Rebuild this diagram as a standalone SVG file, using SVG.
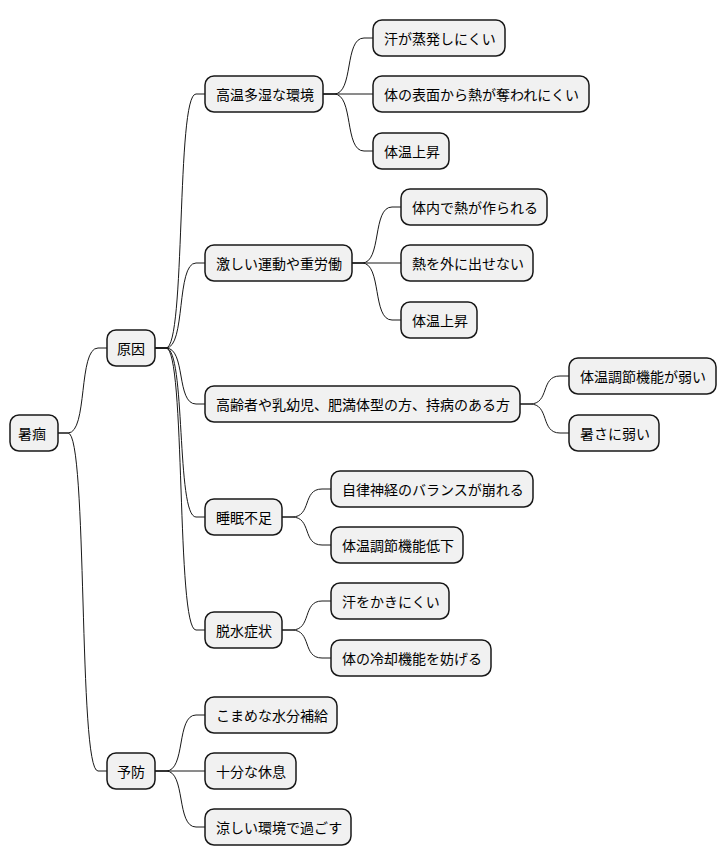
<svg xmlns="http://www.w3.org/2000/svg" width="726" height="865" viewBox="0 0 726 865">
<style>
.n rect{fill:#F1F1F1;stroke:#181818;stroke-width:1.5}
.n text{font-family:"Noto Sans CJK JP","Liberation Sans",sans-serif;font-size:14px;fill:#000;dominant-baseline:central}
#c path{fill:none;stroke:#181818;stroke-width:1}
</style>
<rect width="726" height="865" fill="#fff"/>
<g id="c">
<path d="M58,433 L68,433 C88,433 78,348 98,348 L107,348"/>
<path d="M58,433 L68,433 C88,433 78,771 98,771 L107,771"/>
<path d="M155,348 L166,348 C186,348 176,94 196,94 L205,94"/>
<path d="M155,348 L166,348 C186,348 176,263 196,263 L205,263"/>
<path d="M155,348 L166,348 C186,348 176,404 196,404 L205,404"/>
<path d="M155,348 L166,348 C186,348 176,517 196,517 L205,517"/>
<path d="M155,348 L166,348 C186,348 176,630 196,630 L205,630"/>
<path d="M155,771 L166,771 C186,771 176,715 196,715 L205,715"/>
<path d="M155,771 L205,771"/>
<path d="M155,771 L166,771 C186,771 176,827 196,827 L205,827"/>
<path d="M323,94 L334,94 C354,94 344,38 364,38 L373,38"/>
<path d="M323,94 L373,94"/>
<path d="M323,94 L334,94 C354,94 344,151 364,151 L373,151"/>
<path d="M352,263 L362,263 C382,263 372,207 392,207 L401,207"/>
<path d="M352,263 L401,263"/>
<path d="M352,263 L362,263 C382,263 372,320 392,320 L401,320"/>
<path d="M520,404 L530,404 C550,404 540,376 560,376 L569,376"/>
<path d="M520,404 L530,404 C550,404 540,433 560,433 L569,433"/>
<path d="M282,517 L292,517 C312,517 302,489 322,489 L331,489"/>
<path d="M282,517 L292,517 C312,517 302,545 322,545 L331,545"/>
<path d="M282,630 L292,630 C312,630 302,601 322,601 L331,601"/>
<path d="M282,630 L292,630 C312,630 302,658 322,658 L331,658"/>
</g>
<g id="root" class="n"><rect x="10" y="415" width="48" height="36" rx="9"/><text x="18" y="433">暑痼</text></g>
<g id="cause" class="n"><rect x="107" y="330" width="48" height="36" rx="9"/><text x="117" y="348">原因</text></g>
<g id="prev" class="n"><rect x="107" y="753" width="48" height="36" rx="9"/><text x="117" y="771">予防</text></g>
<g id="c1" class="n"><rect x="205" y="76" width="118" height="36" rx="9"/><text x="216" y="94">高温多湿な環境</text></g>
<g id="c1a" class="n"><rect x="373" y="20" width="132" height="36" rx="9"/><text x="384" y="38">汗が蒸発しにくい</text></g>
<g id="c1b" class="n"><rect x="373" y="76" width="216" height="36" rx="9"/><text x="384" y="94">体の表面から熱が奪われにくい</text></g>
<g id="c1c" class="n"><rect x="373" y="133" width="76" height="36" rx="9"/><text x="384" y="151">体温上昇</text></g>
<g id="c2" class="n"><rect x="205" y="245" width="147" height="36" rx="9"/><text x="216" y="263">激しい運動や重労働</text></g>
<g id="c2a" class="n"><rect x="401" y="189" width="146" height="36" rx="9"/><text x="412" y="207">体内で熱が作られる</text></g>
<g id="c2b" class="n"><rect x="401" y="245" width="132" height="36" rx="9"/><text x="412" y="263">熱を外に出せない</text></g>
<g id="c2c" class="n"><rect x="401" y="302" width="76" height="36" rx="9"/><text x="412" y="320">体温上昇</text></g>
<g id="c3" class="n"><rect x="205" y="386" width="315" height="36" rx="9"/><text x="216" y="404">高齢者や乳幼児、肥満体型の方、持病のある方</text></g>
<g id="c3a" class="n"><rect x="569" y="358" width="147" height="36" rx="9"/><text x="580" y="376">体温調節機能が弱い</text></g>
<g id="c3b" class="n"><rect x="569" y="415" width="90" height="36" rx="9"/><text x="580" y="433">暑さに弱い</text></g>
<g id="c4" class="n"><rect x="205" y="499" width="77" height="36" rx="9"/><text x="216" y="517">睡眠不足</text></g>
<g id="c4a" class="n"><rect x="331" y="471" width="202" height="36" rx="9"/><text x="342" y="489">自律神経のバランスが崩れる</text></g>
<g id="c4b" class="n"><rect x="331" y="527" width="132" height="36" rx="9"/><text x="342" y="545">体温調節機能低下</text></g>
<g id="c5" class="n"><rect x="205" y="612" width="77" height="36" rx="9"/><text x="216" y="630">脱水症状</text></g>
<g id="c5a" class="n"><rect x="331" y="583" width="118" height="36" rx="9"/><text x="342" y="601">汗をかきにくい</text></g>
<g id="c5b" class="n"><rect x="331" y="640" width="160" height="36" rx="9"/><text x="342" y="658">体の冷却機能を妨げる</text></g>
<g id="p1" class="n"><rect x="205" y="697" width="132" height="36" rx="9"/><text x="216" y="715">こまめな水分補給</text></g>
<g id="p2" class="n"><rect x="205" y="753" width="91" height="36" rx="9"/><text x="216" y="771">十分な休息</text></g>
<g id="p3" class="n"><rect x="205" y="809" width="146" height="36" rx="9"/><text x="216" y="827">涼しい環境で過ごす</text></g>
</svg>
